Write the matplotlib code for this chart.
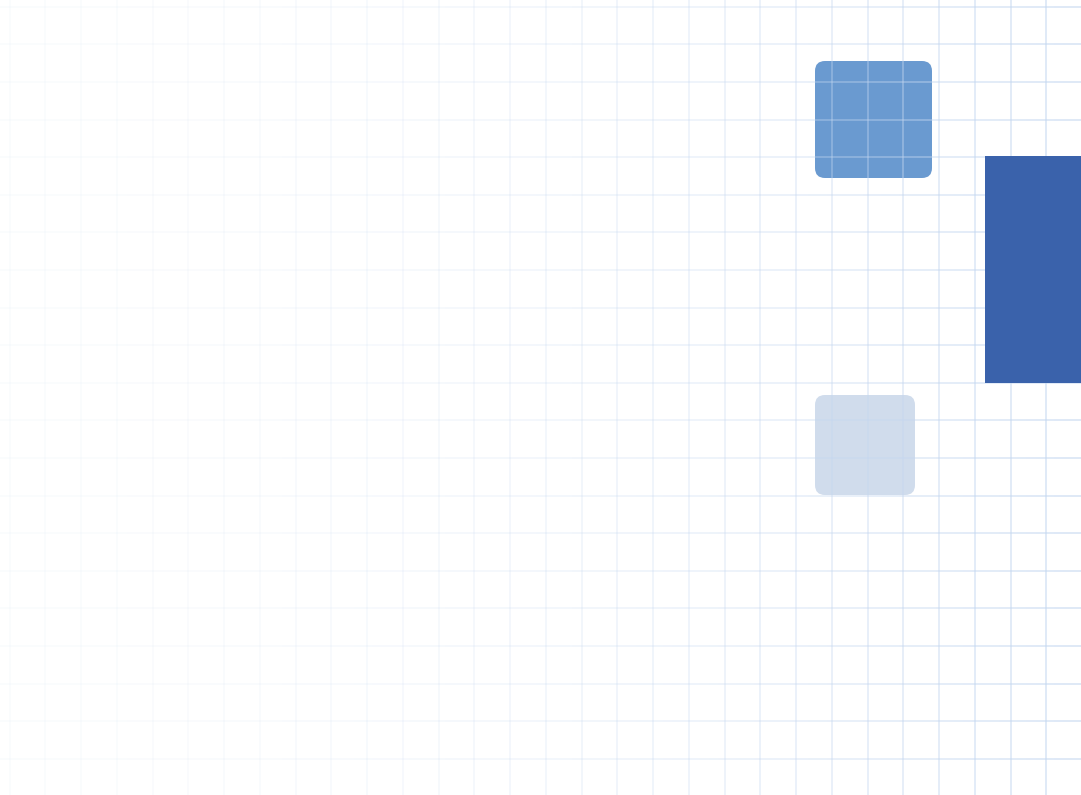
import numpy as np
import matplotlib
matplotlib.use("Agg")
import matplotlib.pyplot as plt
from matplotlib.patches import FancyBboxPatch, Rectangle
from matplotlib.collections import LineCollection
from matplotlib.colors import to_rgb

# размер картинки в пикселях
W = 1081
H = 795

# плитки: левый край, верх, ширина, высота (в пикселях)
tile_x = [815, 815]
tile_y = [61, 395]
tile_w = [117, 100]
tile_h = [117, 100]
tile_color = ['#6a9ad0', '#d0dcec']

# тёмный блок справа
block_x = 985
block_y = 156
block_w = 100
block_h = 227
block_color = '#3a62ab'

# сетка
grid_dx = 35.75
grid_dy = 37.6
grid_x0 = 9.5
grid_y0 = 6.7
grid_color = '#c4d7f0'


def grid_alpha(x):
    # сетка бледнеет к левому краю
    return 0.07 + 0.42 * (x / 1000.0) ** 2


fig = plt.figure(figsize=(W / 100, H / 100), dpi=100)
ax = fig.add_axes([0, 0, 1, 1])
ax.set_xlim(0, W)
ax.set_ylim(H, 0)
ax.axis('off')

for x, y, w, h, c in zip(tile_x, tile_y, tile_w, tile_h, tile_color):
    ax.add_patch(FancyBboxPatch((x, y), w, h,
                                boxstyle='round,pad=0,rounding_size=10',
                                fc=c, ec='none', zorder=1))

rgb = to_rgb(grid_color)
segs = []
cols = []
for gx in np.arange(grid_x0, W, grid_dx):
    segs.append([(gx, 0), (gx, H)])
    cols.append((*rgb, min(grid_alpha(gx), 0.55)))
xs = np.linspace(0, W, 120)
for gy in np.arange(grid_y0, H, grid_dy):
    for a, b in zip(xs[:-1], xs[1:]):
        segs.append([(a, gy), (b, gy)])
        cols.append((*rgb, min(grid_alpha((a + b) / 2), 0.55)))
ax.add_collection(LineCollection(segs, colors=cols, linewidths=1.4,
                                 capstyle='butt', zorder=2))

ax.add_patch(Rectangle((block_x, block_y), block_w, block_h,
                       fc=block_color, ec='none', zorder=4))

fig.savefig('out.png', dpi=100)
